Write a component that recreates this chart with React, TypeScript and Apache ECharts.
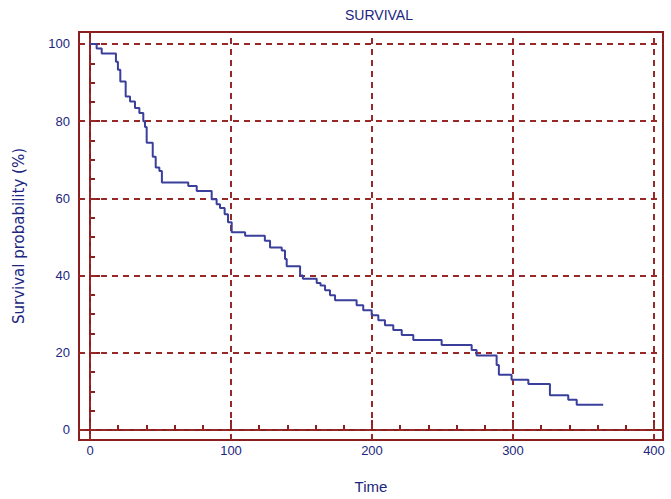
import React, { useEffect, useRef } from "react";
import * as echarts from "echarts";

const times = [0, 4.7, 8.3, 18.4, 19.8, 21.5, 25.3, 28.4, 31.9, 35.0, 37.8, 39.0, 40.2, 44.5, 46.6, 49.2, 51.0, 69.7, 75.7, 86.3, 89.8, 92.2, 95.5, 97.9, 100.5, 110, 124, 127.7, 136, 138.3, 139.5, 149, 151, 160.8, 163.5, 166.7, 170.2, 173.8, 189.1, 193.8, 199.8, 204.5, 209.2, 215.1, 221.1, 229.3, 249.4, 270.7, 274.2, 288.4, 290, 299, 310.9, 326.2, 339.2, 345.2, 364];
const survival = [100, 98.8, 97.5, 95.4, 93.3, 90.3, 86.4, 85.1, 83.4, 82.1, 80.0, 78.5, 74.4, 70.8, 68.0, 67.1, 64.1, 63.2, 61.9, 59.8, 58.5, 57.5, 55.9, 53.8, 51.2, 50.3, 49.0, 47.3, 46.5, 44.3, 42.4, 40.0, 39.2, 38.1, 37.4, 36.2, 34.9, 33.6, 32.3, 31.0, 29.7, 28.4, 27.1, 25.9, 24.6, 23.3, 22.0, 20.7, 19.3, 16.8, 14.3, 13.0, 11.9, 9.0, 7.8, 6.5, 6.5];

const xMajor = [0, 100, 200, 300, 400];
const xMinor = [20, 40, 60, 80, 120, 140, 160, 180, 220, 240, 260, 280, 320, 340, 360, 380];
const yMajor = [0, 20, 40, 60, 80, 100];
const yMinor = [5, 10, 15, 25, 30, 35, 45, 50, 55, 65, 70, 75, 85, 90, 95];

const FRAME = "#8b1e1e";
const GRIDC = "#962828";
const TXT = "#202680";
const LINE = "#3a3f9c";
const FONT = "Liberation Sans, Arial, sans-serif";

export default function App() {
  const ref = useRef<HTMLDivElement>(null);
  useEffect(() => {
    if (!ref.current) return;
    const chart = echarts.init(ref.current, null, { renderer: "svg" });
    const data = times.map((t, i) => [t, survival[i]]);
    const xBase = { type: "value", min: -7.8, max: 406.4, splitLine: { show: false } };
    const yBase = { type: "value", min: -2.6, max: 103.1, splitLine: { show: false } };
    chart.setOption({
      animation: false,
      backgroundColor: "#ffffff",
      title: {
        text: "SURVIVAL",
        left: 374,
        top: 3,
        textAlign: "center",
        textStyle: { color: TXT, fontSize: 14, fontWeight: "normal", fontFamily: FONT },
      },
      grid: {
        left: 79,
        top: 32,
        right: 8,
        bottom: 57,
        show: true,
        borderColor: FRAME,
        borderWidth: 2,
        backgroundColor: "#ffffff",
      },
      xAxis: [
        {
          ...xBase,
          position: "bottom",
          name: "Time",
          nameLocation: "middle",
          nameGap: 39,
          nameTextStyle: { color: TXT, fontSize: 15, fontFamily: FONT, verticalAlign: "top" },
          axisLine: { show: true, lineStyle: { color: FRAME, width: 2 } },
          axisTick: { show: true, inside: true, length: 10, customValues: xMajor, lineStyle: { color: FRAME, width: 2 } },
          axisLabel: { show: true, customValues: xMajor, margin: 4, color: TXT, fontSize: 13, fontFamily: FONT },
        },
        {
          ...xBase,
          position: "bottom",
          axisLine: { show: false },
          axisTick: { show: true, inside: true, length: 5, customValues: xMinor, lineStyle: { color: FRAME, width: 2 } },
          axisLabel: { show: false },
        },
      ],
      yAxis: [
        {
          ...yBase,
          position: "left",
          name: "Survival probability (%)",
          nameLocation: "middle",
          nameGap: 53,
          nameRotate: 90,
          nameTextStyle: { color: TXT, fontSize: 15, fontFamily: "DejaVu Sans, sans-serif" },
          axisLine: { show: true, lineStyle: { color: FRAME, width: 2 } },
          axisTick: { show: true, inside: true, length: 10, customValues: yMajor, lineStyle: { color: FRAME, width: 2 } },
          axisLabel: { show: true, customValues: yMajor, margin: 9, color: TXT, fontSize: 13, fontFamily: FONT },
        },
        {
          ...yBase,
          position: "left",
          axisLine: { show: false },
          axisTick: { show: true, inside: true, length: 5, customValues: yMinor, lineStyle: { color: FRAME, width: 2 } },
          axisLabel: { show: false },
        },
      ],
      series: [
        {
          type: "line",
          xAxisIndex: 0,
          yAxisIndex: 0,
          step: "end",
          data,
          showSymbol: false,
          symbol: "none",
          lineStyle: { color: LINE, width: 2 },
          z: 3,
          markLine: {
            silent: true,
            symbol: ["none", "none"],
            label: { show: false },
            lineStyle: { color: GRIDC, width: 2, type: [6, 5] },
            emphasis: { disabled: true },
            data: [
              ...xMajor.map((v) => ({ xAxis: v })),
              ...yMajor.map((v) => ({ yAxis: v })),
            ],
            z: 2,
          },
        },
      ],
    });
    return () => chart.dispose();
  }, []);
  return <div ref={ref} style={{ position: "fixed", left: 0, top: 0, width: 671, height: 499 }} />;
}
